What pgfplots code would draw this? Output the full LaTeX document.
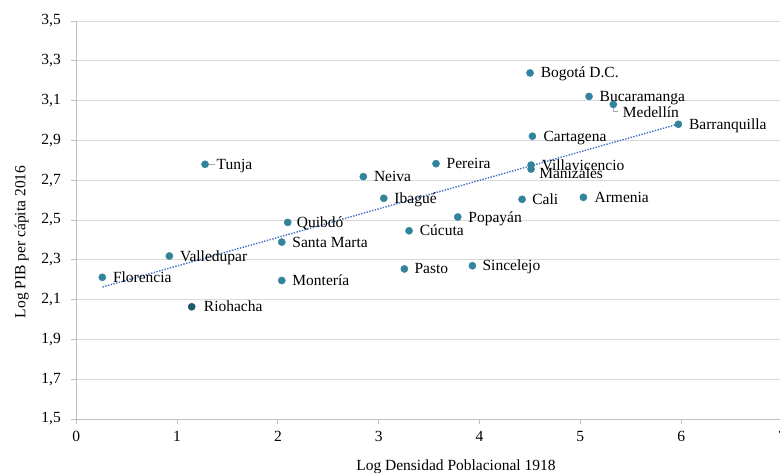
\documentclass[border=0pt]{standalone}
\usepackage{pgfplots}
\pgfplotsset{compat=1.18}
\usepackage{pgfplotstable}
\usepackage{fontspec}
\setmainfont{Liberation Serif}
\definecolor{dot}{HTML}{31849B}
\definecolor{dotdark}{HTML}{215968}
\definecolor{trend}{HTML}{4472C4}
\definecolor{gridc}{HTML}{D9D9D9}
\definecolor{axisc}{HTML}{BFBFBF}

\pgfplotstableread{
x      y      dx    dy     label
4.501  3.239  10.5  -5     {Bogotá D.C.}
5.086  3.121  10.5  -5     {Bucaramanga}
5.327  3.081  9.4   -12.7  {Medellín}
5.972  2.981  10.5  -5     {Barranquilla}
4.524  2.921  11    -5     {Cartagena}
4.511  2.776  10.5  -5     {Villavicencio}
4.511  2.756  8     -9     {Manizales}
3.568  2.783  10.5  -5     {Pereira}
1.277  2.780  11.5  -5     {Tunja}
2.847  2.718  10.5  -5     {Neiva}
3.050  2.609  10.5  -5     {Ibagué}
4.422  2.604  10    -5     {Cali}
5.030  2.614  11    -5     {Armenia}
3.784  2.515  10.5  -5     {Popayán}
2.097  2.488  9     -5     {Quibdó}
3.301  2.446  10.5  -5     {Cúcuta}
2.038  2.389  10.5  -5     {Santa Marta}
0.923  2.319  10.5  -5     {Valledupar}
0.258  2.212  10.5  -5     {Florencia}
2.038  2.196  10.5  -5     {Montería}
3.254  2.254  10    -5     {Pasto}
3.929  2.270  10    -5     {Sincelejo}
}\datatable

\pgfplotstableread{
x      y      dx    dy     label
1.145  2.064  12    -5     {Riohacha}
}\riotable

\pgfplotstableread{
x     y
0.26  2.163
5.97  2.982
}\trendtable

\begin{document}
\begin{tikzpicture}[x=1pt,y=1pt]
\begin{axis}[
  at={(76.3pt,-419pt)}, anchor=south west,
  scale only axis, width=705.7pt, height=398pt,
  xmin=0, xmax=7, ymin=1.5, ymax=3.5,
  xtick={0,1,2,3,4,5,6,7},
  ytick={1.5,1.7,1.9,2.1,2.3,2.5,2.7,2.9,3.1,3.3,3.5},
  ymajorgrids, grid style={gridc, line width=1pt},
  axis x line*=bottom, axis y line*=left,
  axis line style={axisc, line width=1pt, -},
  tick style={axisc, line width=1pt},
  tick align=outside, major tick length=5pt,
  /pgf/number format/assume math mode=true,
  ticklabel style={font=\fontsize{15.5}{18}\selectfont, text=black},
  yticklabel style={/pgf/number format/.cd, fixed, fixed zerofill, precision=1, use comma, /tikz/.cd, xshift=-7pt},
  xticklabel style={/pgf/number format/.cd, fixed, precision=0, /tikz/.cd, yshift=-4pt},
  xlabel={Log Densidad Poblacional 1918},
  ylabel={Log PIB per cápita 2016},
  label style={font=\fontsize{15.5}{18}\selectfont},
  xlabel style={at={(axis description cs:0.538,0)}, anchor=center, yshift=-48pt},
  ylabel style={at={(axis description cs:-0.0774,0.445)}, anchor=center},
  clip=false,
]
\addplot[trend, line width=1.4pt, dash pattern=on 1.4pt off 1.4pt] table[x=x,y=y] {\trendtable};
\draw[gray!70, line width=0.8pt] (axis cs:5.327,3.081) -- ++(0pt,-7pt) -- ++(5pt,0pt);
\draw[gray!70, line width=0.8pt] (axis cs:1.277,2.780) -- ++(10pt,0pt);
\addplot[only marks, mark=*, mark size=3.6pt, color=dot,
  visualization depends on={\thisrow{dx}\as\dx},
  visualization depends on={\thisrow{dy}\as\dy},
  nodes near coords, point meta=explicit symbolic,
  every node near coord/.append style={anchor=base west, inner sep=0pt,
     xshift=\dx pt, yshift=\dy pt, text=black, font=\fontsize{15.5}{18}\selectfont}]
  table[x=x,y=y,meta=label] {\datatable};
\addplot[only marks, mark=*, mark size=3.6pt, color=dotdark,
  visualization depends on={\thisrow{dx}\as\dx},
  visualization depends on={\thisrow{dy}\as\dy},
  nodes near coords, point meta=explicit symbolic,
  every node near coord/.append style={anchor=base west, inner sep=0pt,
     xshift=\dx pt, yshift=\dy pt, text=black, font=\fontsize{15.5}{18}\selectfont}]
  table[x=x,y=y,meta=label] {\riotable};
\end{axis}
\pgfresetboundingbox
\path (0pt,0pt) rectangle (780pt,-473pt);
\end{tikzpicture}
\end{document}
